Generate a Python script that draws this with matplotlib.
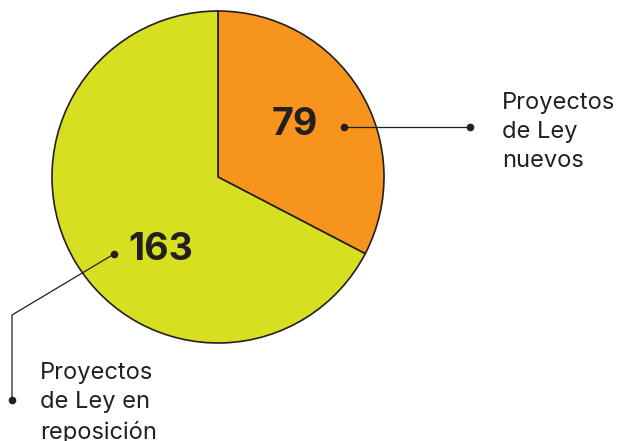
import matplotlib.pyplot as plt

# data
categories = ['Proyectos\nde Ley\nnuevos', 'Proyectos\nde Ley en\nreposición']
values = [79, 163]
colors = ['#F7941D', '#D6E021']
text_color = '#231F20'

W, H = 619, 441
fig = plt.figure(figsize=(W / 100, H / 100), dpi=100)
ax = fig.add_axes([0, 0, 1, 1])

cx, cy, r = 218, H - 177, 166
ax.pie(values, colors=colors, startangle=90, counterclock=False,
       center=(cx, cy), radius=r, frame=True,
       wedgeprops=dict(edgecolor=text_color, linewidth=1.2))
ax.set_xlim(0, W)
ax.set_ylim(0, H)
ax.axis('off')

# value labels
ax.text(295, H - 125, str(values[0]), fontsize=27, fontweight='bold',
        family='Inter', color=text_color, ha='center', va='center')
ax.text(161, H - 250, str(values[1]), fontsize=27, fontweight='bold',
        family='Inter', color=text_color, ha='center', va='center')

# leader lines
ax.plot([344, 470], [H - 127, H - 127], color=text_color, lw=0.9)
ax.plot([344, 470], [H - 127, H - 127], 'o', color=text_color, ms=4.5)
ax.plot([114, 12, 12], [H - 254, H - 315, H - 400], color=text_color, lw=0.9)
ax.plot([114, 12], [H - 254, H - 400], 'o', color=text_color, ms=4.5)

# category labels
ax.text(502, H - 92, categories[0], fontsize=17, family='Inter',
        color=text_color, ha='left', va='top', linespacing=1.42)
ax.text(40, H - 362, categories[1], fontsize=17, family='Inter',
        color=text_color, ha='left', va='top', linespacing=1.42)

fig.savefig('out.png', dpi=100)
